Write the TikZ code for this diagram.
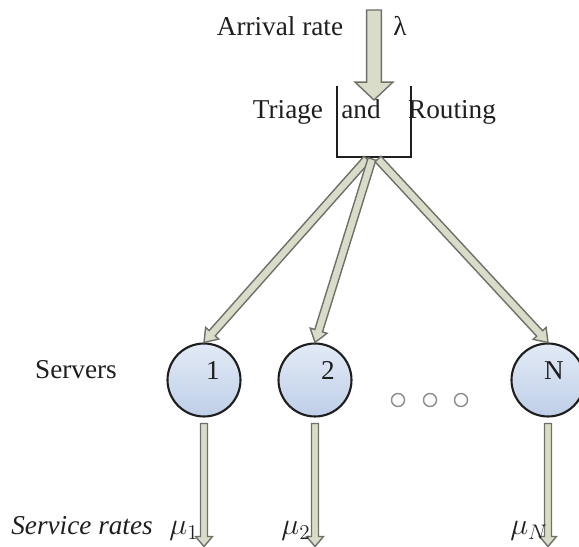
\documentclass[tikz,border=0pt]{standalone}
\usepackage{fontspec}
\setmainfont{Liberation Serif}
\usetikzlibrary{calc}
\definecolor{arrowfill}{HTML}{D9DCC8}
\definecolor{arrowline}{HTML}{707068}
\definecolor{servertop}{HTML}{E2EAF6}
\definecolor{serverbot}{HTML}{BFCFE8}
\definecolor{ink}{HTML}{1E1E1E}
\tikzset{
  lbl/.style={font=\fontsize{15.5}{18}\selectfont, text=ink, inner sep=0pt},
  flow/.style={fill=arrowfill, draw=arrowline, line width=0.8pt, line join=miter},
  server/.style={circle, draw=ink, line width=1.2pt, top color=servertop,
    bottom color=serverbot, minimum size=1.46cm, inner sep=0pt},
  bin/.style={minimum width=1.48cm, minimum height=1.42cm, inner sep=0pt},
  dot/.style={circle, draw=black!45, line width=0.8pt, fill=white,
    minimum size=0.26cm, inner sep=0pt}
}
% block arrow: from, to, half shaft, half head, head length
\newcommand{\blockarrow}[5]{%
  \draw[flow] let \p1=($(#2)-(#1)$), \n1={atan2(\y1,\x1)},
    \n2={veclen(\x1,\y1)} in [shift={(#1)}, rotate=\n1]
    (0pt,#3) -- ({\n2-#5},#3) -- ({\n2-#5},#4) -- ({\n2+0pt},0pt)
    -- ({\n2-#5},-#4) -- ({\n2-#5},-#3) -- (0pt,-#3) -- cycle;}
\begin{document}
\begin{tikzpicture}[x=0.02cm, y=-0.02cm]
  \useasboundingbox (0,0) rectangle (579,547);

  % arrivals
  \node[lbl, anchor=base] (arrival) at (280,36) {Arrival rate};
  \node[lbl, anchor=base] (lambda) at (400,36) {λ};
  \coordinate (feed) at (374,10);
  \coordinate (drop) at (374,100);

  % triage bin
  \node[bin] (router) at (374,121.5) {};
  \draw[ink, line width=1.2pt] (router.north west) |- (router.south east) -- (router.north east);
  \node[lbl, anchor=base] (triage) at (288,119) {Triage};
  \node[lbl, anchor=base] (and) at (361,119) {and};
  \node[lbl, anchor=base] (routing) at (452,119) {Routing};
  \blockarrow{feed}{drop}{4.2pt}{10.8pt}{10.2pt}

  % servers
  \node[lbl, anchor=base] (servers) at (76,379) {Servers};
  \foreach \name/\x/\tx/\ox in {1/204/213/367, 2/315/328/372, N/548/554/378} {
    \node[server] (s\name) at (\x,380) {};
    \node[lbl, anchor=base] (t\name) at (\tx,380) {\name};
    \coordinate (out\name) at (\ox,159);
    \coordinate (b\name) at ($(s\name.south)+(0,6)$);
    \coordinate (e\name) at ($(s\name.south)+(0,129)$);
    \blockarrow{out\name}{s\name.north}{2.3pt}{5pt}{7pt}
    \blockarrow{b\name}{e\name}{2pt}{4.8pt}{5.7pt}
  }
  \foreach \x [count=\k] in {398,430,461}
    \node[dot] (dot\k) at (\x,400) {};

  % service rates
  \node[lbl, anchor=base] (rates) at (82,535) {\itshape Service rates};
  \node[lbl, anchor=base] (mu1) at (184,535) {\fontsize{17}{18}\selectfont$\mu_1$};
  \node[lbl, anchor=base] (mu2) at (296,535) {\fontsize{17}{18}\selectfont$\mu_2$};
  \node[lbl, anchor=base] (muN) at (529,535) {\fontsize{17}{18}\selectfont$\mu_N$};
\end{tikzpicture}
\end{document}
